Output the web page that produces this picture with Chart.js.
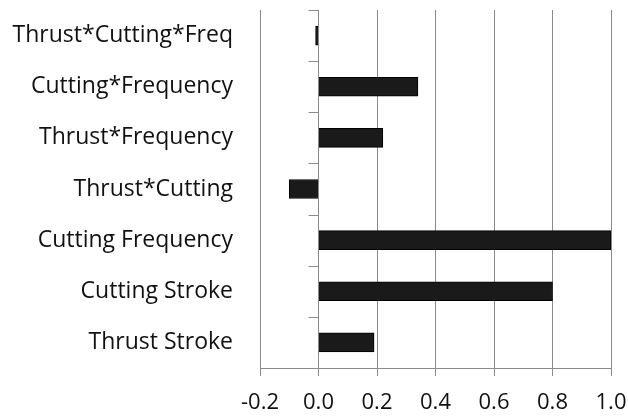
<!DOCTYPE html>
<html>
<head>
<meta charset="utf-8">
<script src="https://cdn.jsdelivr.net/npm/chart.js@4"></script>
<style>
  html, body { margin: 0; padding: 0; background: #fff; }
  #wrap { width: 628px; height: 417px; }
</style>
</head>
<body>
<div id="wrap"><canvas id="effects" width="628" height="417"></canvas></div>
<script>
// factors, top to bottom as in the picture
const factors = [
    'Thrust*Cutting*Freq',
    'Cutting*Frequency',
    'Thrust*Frequency',
    'Thrust*Cutting',
    'Cutting Frequency',
    'Cutting Stroke',
    'Thrust Stroke'
];
const effects = [-0.01, 0.34, 0.22, -0.10, 1.0, 0.80, 0.19];
const xTicks = [-0.2, 0.0, 0.2, 0.4, 0.6, 0.8, 1.0];

const gridColor = '#8a8a8a';
const textColor = '#111';
const fontFamily = '"Open Sans", sans-serif';

// small tick marks on the zero line between categories
const categoryTicks = {
    id: 'categoryTicks',
    afterDatasetsDraw(chart) {
        const { ctx, scales: { x, y } } = chart;
        const x0 = x.getPixelForValue(0);
        ctx.save();
        ctx.strokeStyle = gridColor;
        ctx.lineWidth = 1;
        for (let i = 0; i < factors.length; i++) {
            const py = Math.round(y.getPixelForValue(i - 0.5)) + 0.5;
            ctx.beginPath();
            ctx.moveTo(x0 - 10, py);
            ctx.lineTo(x0, py);
            ctx.stroke();
        }
        ctx.restore();
    }
};

new Chart(document.getElementById('effects').getContext('2d'), {
    type: 'bar',
    data: {
        labels: factors,
        datasets: [{
            data: effects,
            backgroundColor: '#1a1a1a',
            borderColor: '#000',
            borderWidth: 1,
            barThickness: 19
        }]
    },
    options: {
        indexAxis: 'y',
        responsive: false,
        animation: false,
        layout: { padding: { top: 10, right: 17, left: 0, bottom: 0 } },
        plugins: { legend: { display: false }, tooltip: { enabled: false } },
        scales: {
            x: {
                min: -0.2,
                max: 1.0,
                afterBuildTicks: scale => {
                    scale.ticks = xTicks.map(v => ({ value: v }));
                },
                afterFit: scale => {
                    scale.height = 49;
                    scale.paddingLeft = 0;
                    scale.paddingRight = 0;
                },
                grid: { color: gridColor, tickLength: 8, drawTicks: true },
                border: { color: gridColor },
                ticks: {
                    padding: 14,
                    color: textColor,
                    font: { family: fontFamily, size: 22 },
                    callback: v => v.toFixed(1)
                }
            },
            y: {
                afterFit: scale => {
                    scale.width = 260;
                    scale.paddingTop = 0;
                    scale.paddingBottom = 0;
                },
                grid: { display: false, drawTicks: false },
                border: { display: false },
                ticks: {
                    padding: 27,
                    color: textColor,
                    font: { family: fontFamily, size: 23 }
                }
            }
        }
    },
    plugins: [categoryTicks]
});
</script>
</body>
</html>
